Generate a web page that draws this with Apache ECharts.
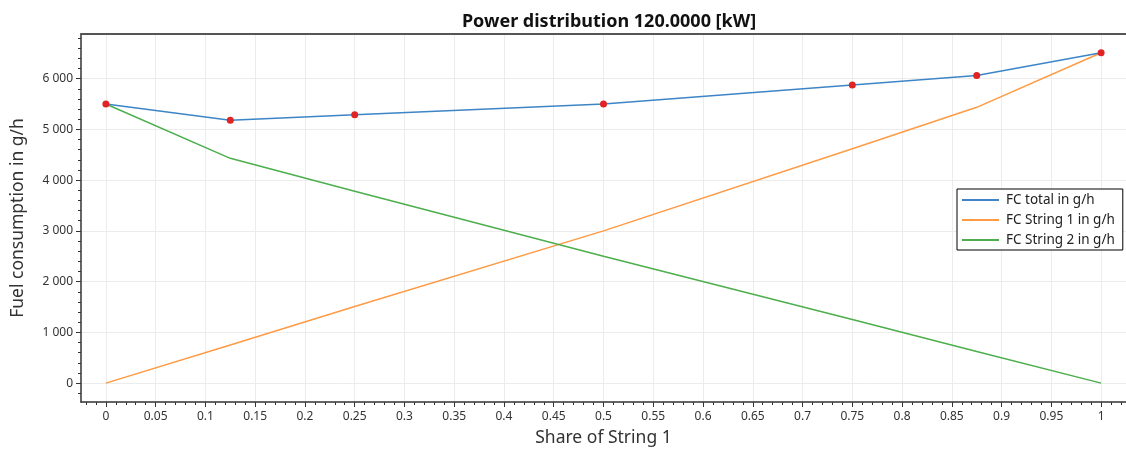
<!DOCTYPE html>
<html>
<head>
<meta charset="utf-8">
<script src="https://cdn.jsdelivr.net/npm/echarts@6/dist/echarts.min.js"></script>
<style>html,body{margin:0;padding:0;background:#fff;}#chart{width:1126px;height:452px;}</style>
</head>
<body>
<div id="chart"></div>
<script>
// ---- data ----
var shares = [0, 0.125, 0.25, 0.5, 0.75, 0.875, 1];
var fcTotal = [5500, 5180, 5290, 5500, 5875, 6060, 6510];
var fcString1 = [0, 750, 1510, 3000, 4620, 5435, 6510];
var fcString2 = [5500, 4430, 3780, 2500, 1255, 625, 0];
var seriesNames = ['FC total in g/h', 'FC String 1 in g/h', 'FC String 2 in g/h'];
var xMajorTicks = [0,0.05,0.1,0.15,0.2,0.25,0.3,0.35,0.4,0.45,0.5,0.55,0.6,0.65,0.7,0.75,0.8,0.85,0.9,0.95,1];
var xMinorTicks = [-0.02,-0.01,0,0.01,0.02,0.03,0.04,0.05,0.06,0.07,0.08,0.09,0.1,0.11,0.12,0.13,0.14,0.15,0.16,0.17,0.18,0.19,0.2,0.21,0.22,0.23,0.24,0.25,0.26,0.27,0.28,0.29,0.3,0.31,0.32,0.33,0.34,0.35,0.36,0.37,0.38,0.39,0.4,0.41,0.42,0.43,0.44,0.45,0.46,0.47,0.48,0.49,0.5,0.51,0.52,0.53,0.54,0.55,0.56,0.57,0.58,0.59,0.6,0.61,0.62,0.63,0.64,0.65,0.66,0.67,0.68,0.69,0.7,0.71,0.72,0.73,0.74,0.75,0.76,0.77,0.78,0.79,0.8,0.81,0.82,0.83,0.84,0.85,0.86,0.87,0.88,0.89,0.9,0.91,0.92,0.93,0.94,0.95,0.96,0.97,0.98,0.99,1,1.01,1.02];
var yMajorTicks = [0, 1000, 2000, 3000, 4000, 5000, 6000];
var yMinorTicks = [-200,0,200,400,600,800,1000,1200,1400,1600,1800,2000,2200,2400,2600,2800,3000,3200,3400,3600,3800,4000,4200,4400,4600,4800,5000,5200,5400,5600,5800,6000,6200,6400,6600,6800];
var seriesColors = ['#3d85c6', '#ff9a45', '#4cae4c'];

var FONT = '"Noto Sans", "Open Sans", sans-serif';
var AXIS_COLOR = '#333';
var X_MIN = -0.025, X_MAX = 1.025, Y_MIN = -372, Y_MAX = 6880;

function pairs(xs, ys) { return xs.map(function (x, i) { return [x, ys[i]]; }); }
function fmtThousands(v) { return String(Math.round(v)).replace(/\B(?=(\d{3})+(?!\d))/g, ' '); }

var chart = echarts.init(document.getElementById('chart'), null, {renderer: 'canvas'});
chart.setOption({
  animation: false,
  backgroundColor: '#fff',
  title: {
    text: 'Power distribution 120.0000 [kW]',
    left: 604, top: 8, textAlign: 'center',
    textStyle: {fontFamily: FONT, fontSize: 18, fontWeight: 'bold', color: '#111'}
  },
  legend: {
    orient: 'vertical',
    left: 957, top: 189,
    backgroundColor: '#fff',
    borderColor: '#000', borderWidth: 1, borderRadius: 0,
    padding: [4, 8, 3, 5],
    itemGap: 6,
    itemWidth: 37, itemHeight: 2,
    icon: 'rect',
    textStyle: {fontFamily: FONT, fontSize: 13.5, color: '#222', padding: [0, 0, 0, 2]},
    data: seriesNames.map(function (n, i) { return {name: n, itemStyle: {color: seriesColors[i]}}; })
  },
  grid: {left: 81, right: 0, top: 34, bottom: 47, containLabel: false},
  xAxis: [
    {
      type: 'value', position: 'bottom', min: X_MIN, max: X_MAX,
      name: 'Share of String 1', nameLocation: 'middle', nameGap: 27,
      nameTextStyle: {fontFamily: FONT, fontSize: 17.5, color: '#333'},
      axisLine: {show: true, onZero: false, lineStyle: {color: AXIS_COLOR, width: 1.5}},
      axisTick: {show: true, length: 5, customValues: xMajorTicks, lineStyle: {color: AXIS_COLOR}},
      axisLabel: {show: true, customValues: xMajorTicks, margin: 9, fontFamily: FONT, fontSize: 12, color: '#333',
        formatter: function (v) { return String(parseFloat(v.toFixed(2))); }},
      splitLine: {show: true, lineStyle: {color: '#ececec', width: 1}}
    },
    {
      type: 'value', position: 'bottom', min: X_MIN, max: X_MAX,
      axisLine: {show: false, onZero: false},
      axisTick: {show: true, length: 3, customValues: xMinorTicks, lineStyle: {color: AXIS_COLOR}},
      axisLabel: {show: false},
      splitLine: {show: false}
    },
    {
      type: 'value', position: 'top', min: X_MIN, max: X_MAX,
      axisLine: {show: true, onZero: false, lineStyle: {color: '#555', width: 2}},
      axisTick: {show: false}, axisLabel: {show: false}, splitLine: {show: false}
    }
  ],
  yAxis: [
    {
      type: 'value', position: 'left', min: Y_MIN, max: Y_MAX,
      name: 'Fuel consumption in g/h', nameLocation: 'middle', nameGap: 54,
      nameTextStyle: {fontFamily: FONT, fontSize: 17.5, color: '#333'},
      axisLine: {show: true, onZero: false, lineStyle: {color: AXIS_COLOR, width: 1.5}},
      axisTick: {show: true, length: 5, customValues: yMajorTicks, lineStyle: {color: AXIS_COLOR}},
      axisLabel: {show: true, customValues: yMajorTicks, margin: 8, fontFamily: FONT, fontSize: 12, color: '#333',
        formatter: fmtThousands},
      splitLine: {show: true, lineStyle: {color: '#ececec', width: 1}}
    },
    {
      type: 'value', position: 'left', min: Y_MIN, max: Y_MAX,
      axisLine: {show: false, onZero: false},
      axisTick: {show: true, length: 3, customValues: yMinorTicks, lineStyle: {color: AXIS_COLOR}},
      axisLabel: {show: false},
      splitLine: {show: false}
    }
  ],
  series: [
    {
      name: seriesNames[0], type: 'line', xAxisIndex: 0, yAxisIndex: 0,
      data: pairs(shares, fcTotal),
      symbol: 'circle', symbolSize: 7, showSymbol: true,
      itemStyle: {color: '#e02424', borderWidth: 0},
      lineStyle: {color: seriesColors[0], width: 1.5},
      z: 5
    },
    {
      name: seriesNames[1], type: 'line', xAxisIndex: 0, yAxisIndex: 0,
      data: pairs(shares, fcString1),
      showSymbol: false, symbol: 'none',
      lineStyle: {color: seriesColors[1], width: 1.5},
      itemStyle: {color: seriesColors[1]}
    },
    {
      name: seriesNames[2], type: 'line', xAxisIndex: 0, yAxisIndex: 0,
      data: pairs(shares, fcString2),
      showSymbol: false, symbol: 'none',
      lineStyle: {color: seriesColors[2], width: 1.5},
      itemStyle: {color: seriesColors[2]}
    }
  ]
});
</script>
</body>
</html>
